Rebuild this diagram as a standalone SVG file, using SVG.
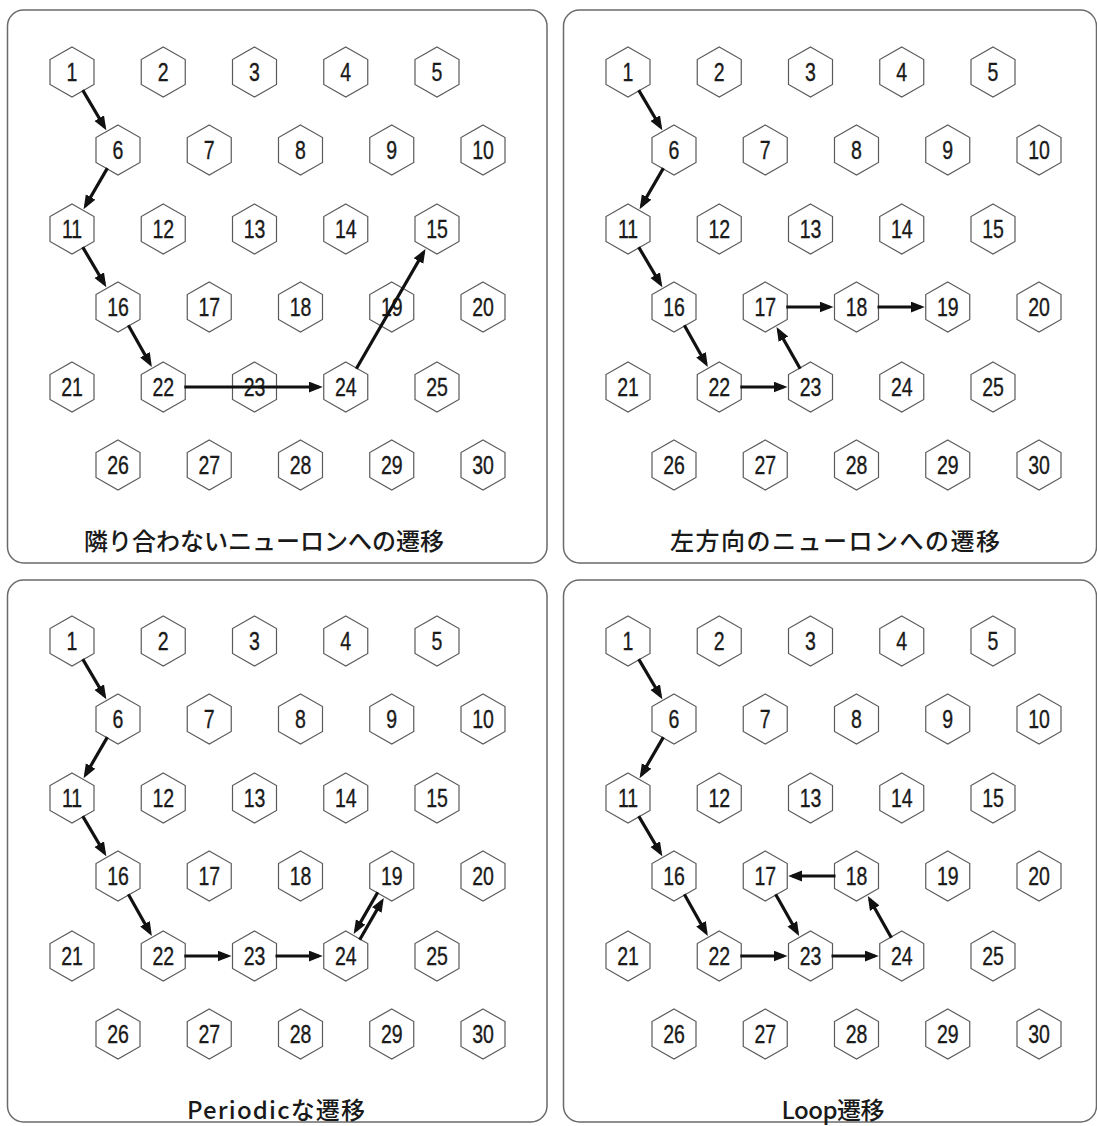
<svg xmlns="http://www.w3.org/2000/svg" xmlns:xlink="http://www.w3.org/1999/xlink" width="1097" height="1126" viewBox="0 0 1097 1126">
<style>
.panel{fill:#fff;stroke:#6a6a6a;stroke-width:1.5}
.hx{fill:#fff;stroke:#5a5a5a;stroke-width:1.2}
.n text{font-family:"Liberation Sans",Arial,sans-serif;font-size:25px;fill:#1a1a1a;stroke:#1a1a1a;stroke-width:0.35;text-anchor:middle;transform:scaleX(0.78)}
.ttl{font-family:"Noto Sans CJK JP","Noto Sans CJK SC",sans-serif;font-size:24px;font-weight:500;fill:#1a1a1a;text-anchor:middle}
.ar{stroke:#111;stroke-width:3.2;fill:none;marker-end:url(#ah)}
</style>
<defs>
<polygon id="hx" class="hx" points="0,-25 22,-12.5 22,12.5 0,25 -22,12.5 -22,-12.5"/>
<marker id="ah" markerUnits="userSpaceOnUse" markerWidth="15" markerHeight="12" refX="10" refY="5.5" orient="auto">
<path d="M0,0 L14,5.5 L0,11 z" fill="#111"/>
</marker>
</defs>
<rect fill="#fff" width="1097" height="1126"/>
<g id="panels">
<rect class="panel" x="7.5" y="10" width="539.5" height="553" rx="16"/>
<rect class="panel" x="563.5" y="10" width="533" height="553" rx="16"/>
<rect class="panel" x="7.5" y="580" width="539.5" height="542" rx="16"/>
<rect class="panel" x="563.5" y="580" width="533" height="542" rx="16"/>
</g>
<g id="titles">
<text class="ttl" x="264" y="550" textLength="360">隣り合わないニューロンへの遷移</text>
<text class="ttl" x="835" y="550" textLength="330">左方向のニューロンへの遷移</text>
<text class="ttl" x="276" y="1119" textLength="178">Periodicな遷移</text>
<text class="ttl" x="833" y="1119" textLength="103">Loop遷移</text>
</g>
<g id="panel1" transform="translate(0,0)">
<g id="p1-n1" class="n" transform="translate(72,72)"><use href="#hx"/><text y="9">1</text></g>
<g id="p1-n2" class="n" transform="translate(163.25,72)"><use href="#hx"/><text y="9">2</text></g>
<g id="p1-n3" class="n" transform="translate(254.5,72)"><use href="#hx"/><text y="9">3</text></g>
<g id="p1-n4" class="n" transform="translate(345.75,72)"><use href="#hx"/><text y="9">4</text></g>
<g id="p1-n5" class="n" transform="translate(437,72)"><use href="#hx"/><text y="9">5</text></g>
<g id="p1-n6" class="n" transform="translate(118,150)"><use href="#hx"/><text y="9">6</text></g>
<g id="p1-n7" class="n" transform="translate(209.25,150)"><use href="#hx"/><text y="9">7</text></g>
<g id="p1-n8" class="n" transform="translate(300.5,150)"><use href="#hx"/><text y="9">8</text></g>
<g id="p1-n9" class="n" transform="translate(391.75,150)"><use href="#hx"/><text y="9">9</text></g>
<g id="p1-n10" class="n" transform="translate(483,150)"><use href="#hx"/><text y="9">10</text></g>
<g id="p1-n11" class="n" transform="translate(72,229)"><use href="#hx"/><text y="9">11</text></g>
<g id="p1-n12" class="n" transform="translate(163.25,229)"><use href="#hx"/><text y="9">12</text></g>
<g id="p1-n13" class="n" transform="translate(254.5,229)"><use href="#hx"/><text y="9">13</text></g>
<g id="p1-n14" class="n" transform="translate(345.75,229)"><use href="#hx"/><text y="9">14</text></g>
<g id="p1-n15" class="n" transform="translate(437,229)"><use href="#hx"/><text y="9">15</text></g>
<g id="p1-n16" class="n" transform="translate(118,307)"><use href="#hx"/><text y="9">16</text></g>
<g id="p1-n17" class="n" transform="translate(209.25,307)"><use href="#hx"/><text y="9">17</text></g>
<g id="p1-n18" class="n" transform="translate(300.5,307)"><use href="#hx"/><text y="9">18</text></g>
<g id="p1-n19" class="n" transform="translate(391.75,307)"><use href="#hx"/><text y="9">19</text></g>
<g id="p1-n20" class="n" transform="translate(483,307)"><use href="#hx"/><text y="9">20</text></g>
<g id="p1-n21" class="n" transform="translate(72,387)"><use href="#hx"/><text y="9">21</text></g>
<g id="p1-n22" class="n" transform="translate(163.25,387)"><use href="#hx"/><text y="9">22</text></g>
<g id="p1-n23" class="n" transform="translate(254.5,387)"><use href="#hx"/><text y="9">23</text></g>
<g id="p1-n24" class="n" transform="translate(345.75,387)"><use href="#hx"/><text y="9">24</text></g>
<g id="p1-n25" class="n" transform="translate(437,387)"><use href="#hx"/><text y="9">25</text></g>
<g id="p1-n26" class="n" transform="translate(118,465)"><use href="#hx"/><text y="9">26</text></g>
<g id="p1-n27" class="n" transform="translate(209.25,465)"><use href="#hx"/><text y="9">27</text></g>
<g id="p1-n28" class="n" transform="translate(300.5,465)"><use href="#hx"/><text y="9">28</text></g>
<g id="p1-n29" class="n" transform="translate(391.75,465)"><use href="#hx"/><text y="9">29</text></g>
<g id="p1-n30" class="n" transform="translate(483,465)"><use href="#hx"/><text y="9">30</text></g>
</g>
<g id="panel2" transform="translate(556,0)">
<g id="p2-n1" class="n" transform="translate(72,72)"><use href="#hx"/><text y="9">1</text></g>
<g id="p2-n2" class="n" transform="translate(163.25,72)"><use href="#hx"/><text y="9">2</text></g>
<g id="p2-n3" class="n" transform="translate(254.5,72)"><use href="#hx"/><text y="9">3</text></g>
<g id="p2-n4" class="n" transform="translate(345.75,72)"><use href="#hx"/><text y="9">4</text></g>
<g id="p2-n5" class="n" transform="translate(437,72)"><use href="#hx"/><text y="9">5</text></g>
<g id="p2-n6" class="n" transform="translate(118,150)"><use href="#hx"/><text y="9">6</text></g>
<g id="p2-n7" class="n" transform="translate(209.25,150)"><use href="#hx"/><text y="9">7</text></g>
<g id="p2-n8" class="n" transform="translate(300.5,150)"><use href="#hx"/><text y="9">8</text></g>
<g id="p2-n9" class="n" transform="translate(391.75,150)"><use href="#hx"/><text y="9">9</text></g>
<g id="p2-n10" class="n" transform="translate(483,150)"><use href="#hx"/><text y="9">10</text></g>
<g id="p2-n11" class="n" transform="translate(72,229)"><use href="#hx"/><text y="9">11</text></g>
<g id="p2-n12" class="n" transform="translate(163.25,229)"><use href="#hx"/><text y="9">12</text></g>
<g id="p2-n13" class="n" transform="translate(254.5,229)"><use href="#hx"/><text y="9">13</text></g>
<g id="p2-n14" class="n" transform="translate(345.75,229)"><use href="#hx"/><text y="9">14</text></g>
<g id="p2-n15" class="n" transform="translate(437,229)"><use href="#hx"/><text y="9">15</text></g>
<g id="p2-n16" class="n" transform="translate(118,307)"><use href="#hx"/><text y="9">16</text></g>
<g id="p2-n17" class="n" transform="translate(209.25,307)"><use href="#hx"/><text y="9">17</text></g>
<g id="p2-n18" class="n" transform="translate(300.5,307)"><use href="#hx"/><text y="9">18</text></g>
<g id="p2-n19" class="n" transform="translate(391.75,307)"><use href="#hx"/><text y="9">19</text></g>
<g id="p2-n20" class="n" transform="translate(483,307)"><use href="#hx"/><text y="9">20</text></g>
<g id="p2-n21" class="n" transform="translate(72,387)"><use href="#hx"/><text y="9">21</text></g>
<g id="p2-n22" class="n" transform="translate(163.25,387)"><use href="#hx"/><text y="9">22</text></g>
<g id="p2-n23" class="n" transform="translate(254.5,387)"><use href="#hx"/><text y="9">23</text></g>
<g id="p2-n24" class="n" transform="translate(345.75,387)"><use href="#hx"/><text y="9">24</text></g>
<g id="p2-n25" class="n" transform="translate(437,387)"><use href="#hx"/><text y="9">25</text></g>
<g id="p2-n26" class="n" transform="translate(118,465)"><use href="#hx"/><text y="9">26</text></g>
<g id="p2-n27" class="n" transform="translate(209.25,465)"><use href="#hx"/><text y="9">27</text></g>
<g id="p2-n28" class="n" transform="translate(300.5,465)"><use href="#hx"/><text y="9">28</text></g>
<g id="p2-n29" class="n" transform="translate(391.75,465)"><use href="#hx"/><text y="9">29</text></g>
<g id="p2-n30" class="n" transform="translate(483,465)"><use href="#hx"/><text y="9">30</text></g>
</g>
<g id="panel3" transform="translate(0,569)">
<g id="p3-n1" class="n" transform="translate(72,72)"><use href="#hx"/><text y="9">1</text></g>
<g id="p3-n2" class="n" transform="translate(163.25,72)"><use href="#hx"/><text y="9">2</text></g>
<g id="p3-n3" class="n" transform="translate(254.5,72)"><use href="#hx"/><text y="9">3</text></g>
<g id="p3-n4" class="n" transform="translate(345.75,72)"><use href="#hx"/><text y="9">4</text></g>
<g id="p3-n5" class="n" transform="translate(437,72)"><use href="#hx"/><text y="9">5</text></g>
<g id="p3-n6" class="n" transform="translate(118,150)"><use href="#hx"/><text y="9">6</text></g>
<g id="p3-n7" class="n" transform="translate(209.25,150)"><use href="#hx"/><text y="9">7</text></g>
<g id="p3-n8" class="n" transform="translate(300.5,150)"><use href="#hx"/><text y="9">8</text></g>
<g id="p3-n9" class="n" transform="translate(391.75,150)"><use href="#hx"/><text y="9">9</text></g>
<g id="p3-n10" class="n" transform="translate(483,150)"><use href="#hx"/><text y="9">10</text></g>
<g id="p3-n11" class="n" transform="translate(72,229)"><use href="#hx"/><text y="9">11</text></g>
<g id="p3-n12" class="n" transform="translate(163.25,229)"><use href="#hx"/><text y="9">12</text></g>
<g id="p3-n13" class="n" transform="translate(254.5,229)"><use href="#hx"/><text y="9">13</text></g>
<g id="p3-n14" class="n" transform="translate(345.75,229)"><use href="#hx"/><text y="9">14</text></g>
<g id="p3-n15" class="n" transform="translate(437,229)"><use href="#hx"/><text y="9">15</text></g>
<g id="p3-n16" class="n" transform="translate(118,307)"><use href="#hx"/><text y="9">16</text></g>
<g id="p3-n17" class="n" transform="translate(209.25,307)"><use href="#hx"/><text y="9">17</text></g>
<g id="p3-n18" class="n" transform="translate(300.5,307)"><use href="#hx"/><text y="9">18</text></g>
<g id="p3-n19" class="n" transform="translate(391.75,307)"><use href="#hx"/><text y="9">19</text></g>
<g id="p3-n20" class="n" transform="translate(483,307)"><use href="#hx"/><text y="9">20</text></g>
<g id="p3-n21" class="n" transform="translate(72,387)"><use href="#hx"/><text y="9">21</text></g>
<g id="p3-n22" class="n" transform="translate(163.25,387)"><use href="#hx"/><text y="9">22</text></g>
<g id="p3-n23" class="n" transform="translate(254.5,387)"><use href="#hx"/><text y="9">23</text></g>
<g id="p3-n24" class="n" transform="translate(345.75,387)"><use href="#hx"/><text y="9">24</text></g>
<g id="p3-n25" class="n" transform="translate(437,387)"><use href="#hx"/><text y="9">25</text></g>
<g id="p3-n26" class="n" transform="translate(118,465)"><use href="#hx"/><text y="9">26</text></g>
<g id="p3-n27" class="n" transform="translate(209.25,465)"><use href="#hx"/><text y="9">27</text></g>
<g id="p3-n28" class="n" transform="translate(300.5,465)"><use href="#hx"/><text y="9">28</text></g>
<g id="p3-n29" class="n" transform="translate(391.75,465)"><use href="#hx"/><text y="9">29</text></g>
<g id="p3-n30" class="n" transform="translate(483,465)"><use href="#hx"/><text y="9">30</text></g>
</g>
<g id="panel4" transform="translate(556,569)">
<g id="p4-n1" class="n" transform="translate(72,72)"><use href="#hx"/><text y="9">1</text></g>
<g id="p4-n2" class="n" transform="translate(163.25,72)"><use href="#hx"/><text y="9">2</text></g>
<g id="p4-n3" class="n" transform="translate(254.5,72)"><use href="#hx"/><text y="9">3</text></g>
<g id="p4-n4" class="n" transform="translate(345.75,72)"><use href="#hx"/><text y="9">4</text></g>
<g id="p4-n5" class="n" transform="translate(437,72)"><use href="#hx"/><text y="9">5</text></g>
<g id="p4-n6" class="n" transform="translate(118,150)"><use href="#hx"/><text y="9">6</text></g>
<g id="p4-n7" class="n" transform="translate(209.25,150)"><use href="#hx"/><text y="9">7</text></g>
<g id="p4-n8" class="n" transform="translate(300.5,150)"><use href="#hx"/><text y="9">8</text></g>
<g id="p4-n9" class="n" transform="translate(391.75,150)"><use href="#hx"/><text y="9">9</text></g>
<g id="p4-n10" class="n" transform="translate(483,150)"><use href="#hx"/><text y="9">10</text></g>
<g id="p4-n11" class="n" transform="translate(72,229)"><use href="#hx"/><text y="9">11</text></g>
<g id="p4-n12" class="n" transform="translate(163.25,229)"><use href="#hx"/><text y="9">12</text></g>
<g id="p4-n13" class="n" transform="translate(254.5,229)"><use href="#hx"/><text y="9">13</text></g>
<g id="p4-n14" class="n" transform="translate(345.75,229)"><use href="#hx"/><text y="9">14</text></g>
<g id="p4-n15" class="n" transform="translate(437,229)"><use href="#hx"/><text y="9">15</text></g>
<g id="p4-n16" class="n" transform="translate(118,307)"><use href="#hx"/><text y="9">16</text></g>
<g id="p4-n17" class="n" transform="translate(209.25,307)"><use href="#hx"/><text y="9">17</text></g>
<g id="p4-n18" class="n" transform="translate(300.5,307)"><use href="#hx"/><text y="9">18</text></g>
<g id="p4-n19" class="n" transform="translate(391.75,307)"><use href="#hx"/><text y="9">19</text></g>
<g id="p4-n20" class="n" transform="translate(483,307)"><use href="#hx"/><text y="9">20</text></g>
<g id="p4-n21" class="n" transform="translate(72,387)"><use href="#hx"/><text y="9">21</text></g>
<g id="p4-n22" class="n" transform="translate(163.25,387)"><use href="#hx"/><text y="9">22</text></g>
<g id="p4-n23" class="n" transform="translate(254.5,387)"><use href="#hx"/><text y="9">23</text></g>
<g id="p4-n24" class="n" transform="translate(345.75,387)"><use href="#hx"/><text y="9">24</text></g>
<g id="p4-n25" class="n" transform="translate(437,387)"><use href="#hx"/><text y="9">25</text></g>
<g id="p4-n26" class="n" transform="translate(118,465)"><use href="#hx"/><text y="9">26</text></g>
<g id="p4-n27" class="n" transform="translate(209.25,465)"><use href="#hx"/><text y="9">27</text></g>
<g id="p4-n28" class="n" transform="translate(300.5,465)"><use href="#hx"/><text y="9">28</text></g>
<g id="p4-n29" class="n" transform="translate(391.75,465)"><use href="#hx"/><text y="9">29</text></g>
<g id="p4-n30" class="n" transform="translate(483,465)"><use href="#hx"/><text y="9">30</text></g>
</g>
<g id="connectors">
<g id="c1" transform="translate(0,0)">
<line class="ar" x1="82.7" y1="90.1" x2="104.3" y2="126.7"/>
<line class="ar" x1="107.4" y1="168.1" x2="85.6" y2="205.7"/>
<line class="ar" x1="82.7" y1="247.1" x2="104.3" y2="283.7"/>
<line class="ar" x1="128.3" y1="325.3" x2="149.9" y2="363.5"/>
<line class="ar" x1="184.3" y1="387" x2="318.75" y2="387"/>
<line class="ar" x1="356.3" y1="368.8" x2="423.5" y2="252.4"/>
</g>
<g id="c2" transform="translate(556,0)">
<line class="ar" x1="82.7" y1="90.1" x2="104.3" y2="126.7"/>
<line class="ar" x1="107.4" y1="168.1" x2="85.6" y2="205.7"/>
<line class="ar" x1="82.7" y1="247.1" x2="104.3" y2="283.7"/>
<line class="ar" x1="128.3" y1="325.3" x2="149.9" y2="363.5"/>
<line class="ar" x1="184.3" y1="387" x2="227.5" y2="387"/>
<line class="ar" x1="244.2" y1="368.7" x2="222.5" y2="330.5"/>
<line class="ar" x1="230.25" y1="307" x2="273.5" y2="307"/>
<line class="ar" x1="321.5" y1="307" x2="364.75" y2="307"/>
</g>
<g id="c3" transform="translate(0,569)">
<line class="ar" x1="82.7" y1="90.1" x2="104.3" y2="126.7"/>
<line class="ar" x1="107.4" y1="168.1" x2="85.6" y2="205.7"/>
<line class="ar" x1="82.7" y1="247.1" x2="104.3" y2="283.7"/>
<line class="ar" x1="128.3" y1="325.3" x2="149.9" y2="363.5"/>
<line class="ar" x1="184.3" y1="387" x2="227.5" y2="387"/>
<line class="ar" x1="275.5" y1="387" x2="318.75" y2="387"/>
<line class="ar" x1="359.7" y1="370.8" x2="381.8" y2="332.4"/>
<line class="ar" x1="377.8" y1="323.2" x2="355.7" y2="361.6"/>
</g>
<g id="c4" transform="translate(556,569)">
<line class="ar" x1="82.7" y1="90.1" x2="104.3" y2="126.7"/>
<line class="ar" x1="107.4" y1="168.1" x2="85.6" y2="205.7"/>
<line class="ar" x1="82.7" y1="247.1" x2="104.3" y2="283.7"/>
<line class="ar" x1="128.3" y1="325.3" x2="149.9" y2="363.5"/>
<line class="ar" x1="184.3" y1="387" x2="227.5" y2="387"/>
<line class="ar" x1="275.5" y1="387" x2="318.75" y2="387"/>
<line class="ar" x1="335.4" y1="368.7" x2="313.8" y2="330.5"/>
<line class="ar" x1="279.5" y1="307" x2="236.25" y2="307"/>
<line class="ar" x1="219.6" y1="325.3" x2="241.2" y2="363.5"/>
</g>
</g>
</svg>
